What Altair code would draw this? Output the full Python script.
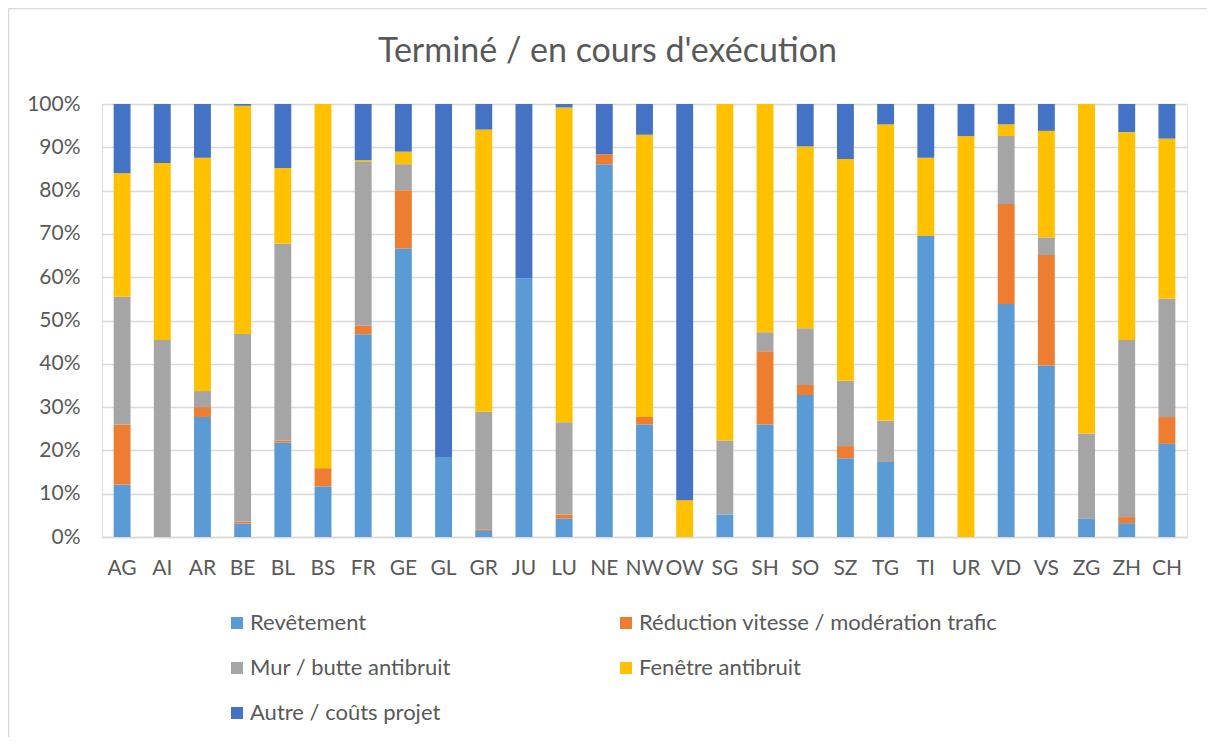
import altair as alt
import pandas as pd

categories = ["AG", "AI", "AR", "BE", "BL", "BS", "FR", "GE", "GL", "GR", "JU", "LU", "NE", "NW",
              "OW", "SG", "SH", "SO", "SZ", "TG", "TI", "UR", "VD", "VS", "ZG", "ZH", "CH"]
series = ["Revêtement", "Réduction vitesse / modération trafic", "Mur / butte antibruit",
          "Fenêtre antibruit", "Autre / coûts projet"]
colors = ["#5B9BD5", "#ED7D31", "#A5A5A5", "#FFC000", "#4472C4"]
title_text = "Terminé / en cours d'exécution"

revetement = [12.1, 0, 27.7, 3.1, 21.8, 11.7, 46.8, 66.6, 18.5, 1.4, 59.7, 4.3, 86.1, 26.0,
              0, 5.2, 26.0, 32.8, 18.2, 17.3, 69.5, 0, 53.8, 39.6, 4.3, 3.2, 21.5]
reduction = [13.9, 0, 2.3, 0.4, 0.5, 4.2, 2.0, 13.5, 0, 0.3, 0, 0.9, 2.3, 1.7,
             0, 0, 16.9, 2.3, 2.8, 0, 0, 0, 23.1, 25.5, 0, 1.4, 6.2]
mur = [29.5, 45.5, 3.7, 43.4, 45.4, 0, 37.8, 6.0, 0, 27.2, 0, 21.3, 0, 0,
       0, 17.1, 4.4, 13.1, 15.1, 9.6, 0, 0, 15.7, 4.1, 19.6, 40.9, 27.3]
fenetre = [28.5, 40.9, 53.9, 52.7, 17.5, 84.1, 0.4, 2.9, 0, 65.2, 0, 72.7, 0, 65.2,
           8.5, 77.7, 52.7, 42.0, 51.2, 68.4, 18.1, 92.6, 2.7, 24.6, 76.1, 48.0, 37.0]
autre = [16.0, 13.6, 12.4, 0.4, 14.8, 0, 13.0, 11.0, 81.5, 5.9, 40.3, 0.8, 11.6, 7.1,
         91.5, 0, 0, 9.8, 12.7, 4.7, 12.4, 7.4, 4.7, 6.2, 0, 6.5, 8.0]

values = [revetement, reduction, mur, fenetre, autre]
rows = []
for si, (s, vals) in enumerate(zip(series, values)):
    for c, v in zip(categories, vals):
        rows.append({"canton": c, "serie": s, "ordre": si, "valeur": v / 100.0})
df = pd.DataFrame(rows)

FONT = "Lato"
TXT = "#595959"
W, H = 1085, 433

bars = alt.Chart(df).mark_bar().encode(
    x=alt.X("canton:N", sort=categories,
            scale=alt.Scale(paddingInner=0.58, paddingOuter=0.29),
            axis=alt.Axis(title=None, labelAngle=0, ticks=False, domain=True,
                          domainColor="#D9D9D9", domainWidth=1.5, labelPadding=20,
                          labelFontSize=21, labelColor=TXT, labelFont=FONT, grid=False)),
    y=alt.Y("valeur:Q", stack="normalize",
            scale=alt.Scale(domain=[0, 1]),
            axis=alt.Axis(title=None, format=".0%", values=[i / 10 for i in range(11)],
                          ticks=False, domain=False, labelPadding=22, labelFontSize=21,
                          labelColor=TXT, labelFont=FONT, gridColor="#D9D9D9", gridWidth=1.5)),
    color=alt.Color("serie:N", sort=series,
                    scale=alt.Scale(domain=series, range=colors),
                    legend=alt.Legend(title=None, orient="none", legendX=124, legendY=508,
                                      columns=2, direction="horizontal",
                                      columnPadding=164, rowPadding=23,
                                      symbolType="square", symbolSize=144, symbolStrokeWidth=0,
                                      labelFontSize=22, labelColor=TXT, labelFont=FONT,
                                      labelOffset=2, labelLimit=500)),
    order=alt.Order("ordre:Q", sort="ascending"),
)

frame_df = pd.DataFrame({"a": [0]})
frame_top = alt.Chart(frame_df).mark_rule(stroke="#D9D9D9", strokeWidth=1.5).encode(
    x=alt.value(-93.5), x2=alt.value(1300), y=alt.value(-95.5)
)
frame_left = alt.Chart(frame_df).mark_rule(stroke="#D9D9D9", strokeWidth=1.5).encode(
    x=alt.value(-93.5), y=alt.value(-95.5), y2=alt.value(700)
)

title = alt.Chart(pd.DataFrame({"t": [title_text]})).mark_text(
    font=FONT, fontSize=34, color=TXT, align="center", baseline="middle"
).encode(
    text="t:N", x=alt.value(505.5), y=alt.value(-52)
)

chart = alt.layer(frame_top, frame_left, bars, title).properties(
    width=W, height=H,
    autosize=alt.AutoSizeParams(type="none"),
    padding={"left": 94, "top": 96, "right": 20, "bottom": 200},
).configure_view(stroke=None).configure(background="white")

chart.save("out.html", embed_options={"renderer": "svg", "actions": False})
